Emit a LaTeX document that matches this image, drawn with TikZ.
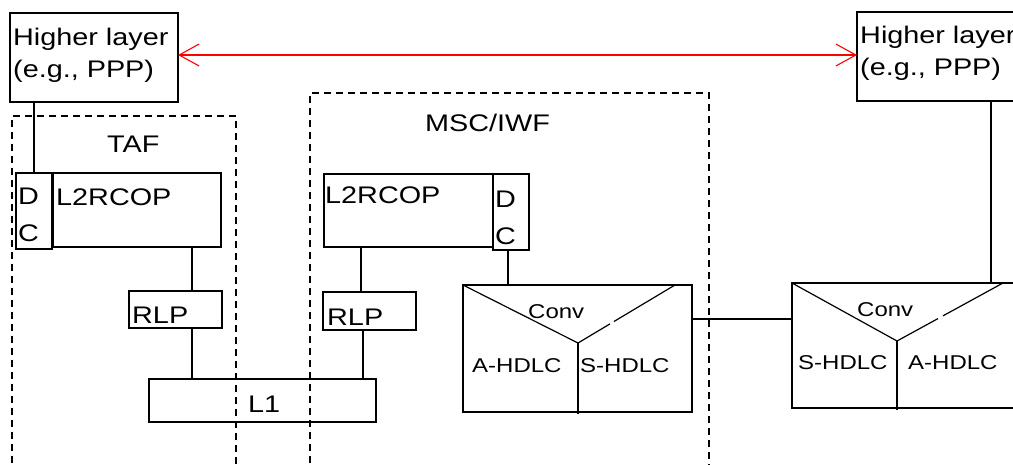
\documentclass[tikz,border=0pt]{standalone}
\usepackage{fontspec}
\setmainfont{Liberation Sans}[FakeStretch=1.2]
\usetikzlibrary{calc, arrows.meta}

\begin{document}
\begin{tikzpicture}[x=1pt, y=-1pt,
  box/.style={draw, line width=1.2pt, anchor=north west, inner sep=0pt, outer sep=0pt},
  txt/.style={anchor=base west, inner sep=0pt, align=left,
              font=\fontsize{24}{32}\selectfont},
  dctxt/.style={txt, font=\fontsize{24}{37}\selectfont},
  sml/.style={anchor=base west, inner sep=0pt, font=\fontsize{20}{24}\selectfont},
  ln/.style={line width=1.2pt},
  zone/.style={line width=1.6pt, dash pattern=on 7pt off 5pt},
  peer/.style={red, line width=1.1pt, {Straight Barb[length=20pt, width=22pt]}-{Straight Barb[length=20pt, width=22pt]}}
]
  \useasboundingbox (0,0) rectangle (1013,464);

  % dashed entities
  \draw[zone] (12,475) |- (236,116) -- (236,475);
  \draw[zone] (310,475) |- (709,93) -- (709,475);
  \node[txt] (taf) at (107,152) {TAF};
  \node[txt] (msc) at (425,131.5) {MSC/IWF};

  % higher layers
  \node[box, minimum width=168pt, minimum height=89pt] (hlL) at (10,13) {};
  \node[box, minimum width=200pt, minimum height=89pt] (hlR) at (857,12) {};
  \node[txt] (hlLt) at ([shift={(3,64)}]hlL.north west) {Higher layer\\(e.g., PPP)};
  \node[txt] (hlRt) at ([shift={(3,63)}]hlR.north west) {Higher layer\\(e.g., PPP)};

  % TAF side
  \node[box, minimum width=36pt, minimum height=76pt] (dcT) at (16,173) {};
  \node[box, minimum width=168pt, minimum height=74pt] (l2T) at (53,173) {};
  \node[box, minimum width=93pt, minimum height=37pt] (rlpT) at (129,291) {};
  \node[dctxt] (dcTt) at ([shift={(2,68)}]dcT.north west) {D\\C};
  \node[txt] (l2Tt) at ([shift={(3,32)}]l2T.north west) {L2RCOP};
  \node[txt] (rlpTt) at ([shift={(3,32)}]rlpT.north west) {RLP};

  % MSC/IWF side
  \node[box, minimum width=169pt, minimum height=73pt] (l2M) at (324,174) {};
  \node[box, minimum width=36pt, minimum height=76pt] (dcM) at (493,174) {};
  \node[box, minimum width=93pt, minimum height=38pt] (rlpM) at (323,292) {};
  \node[txt] (l2Mt) at ([shift={(1,29)}]l2M.north west) {L2RCOP};
  \node[dctxt] (dcMt) at ([shift={(2,70)}]dcM.north west) {D\\C};
  \node[txt] (rlpMt) at ([shift={(4,33)}]rlpM.north west) {RLP};

  \node[box, minimum width=227pt, minimum height=43pt] (L1) at (149,379) {};
  \node[txt] (L1t) at ([shift={(99,33)}]L1.north west) {L1};

  % converters
  \node[box, minimum width=229pt, minimum height=127pt] (convL) at (463,285) {};
  \node[box, minimum width=240pt, minimum height=125pt] (convR) at (792,283) {};
  \coordinate (vL) at (578,343);
  \coordinate (tL) at (675,285);
  \coordinate (vR) at (897,341);
  \coordinate (tR) at (1003,283);
  \draw[ln] (convL.north west) -- (vL) -- ($(vL)!0.33!(tL)$);
  \draw[ln] ($(vL)!0.37!(tL)$) -- (tL);
  \draw[ln] (vL) -- ([yshift=-2pt]vL |- convL.south);
  \draw[ln] (convR.north west) -- (vR) -- ($(vR)!0.387!(tR)$);
  \draw[ln] ($(vR)!0.434!(tR)$) -- (tR);
  \draw[ln] (vR) -- ([yshift=-2pt]vR |- convR.south);
  \node[sml] (cvL) at ([shift={(65,33)}]convL.north west) {Conv};
  \node[sml] (cvR) at ([shift={(65,33)}]convR.north west) {Conv};
  \node[sml] (ahL) at ([shift={(9,87)}]convL.north west) {A-HDLC};
  \node[sml] (shL) at ([shift={(117,87)}]convL.north west) {S-HDLC};
  \node[sml] (shR) at ([shift={(6,86)}]convR.north west) {S-HDLC};
  \node[sml] (ahR) at ([shift={(116,86)}]convR.north west) {A-HDLC};

  % connections
  \draw[ln] (dcT.north) -- (dcT.north |- hlL.south);
  \draw[ln] ([xshift=16.5pt]rlpT.north) -- ([xshift=16.5pt]rlpT.north |- l2T.south);
  \draw[ln] ([xshift=16.5pt]rlpT.south) -- ([xshift=16.5pt]rlpT.south |- L1.north);
  \draw[ln] ([xshift=-8.5pt]rlpM.north) -- ([xshift=-8.5pt]rlpM.north |- l2M.south);
  \draw[ln] ([xshift=-6.5pt]rlpM.south) -- ([xshift=-6.5pt]rlpM.south |- L1.north);
  \draw[ln] ([xshift=-3pt]dcM.south) -- ([xshift=-3pt]dcM.south |- convL.north);
  \draw[ln] ([xshift=34pt]hlR.south) -- ([xshift=34pt]hlR.south |- convR.north);
  \draw[ln] ([yshift=-34pt]convL.north east) -- ([yshift=-34pt]convL.north east -| convR.west);
  \draw[peer] ([yshift=2.5pt]hlL.east) -- ([yshift=2.5pt]hlL.east -| hlR.west);
\end{tikzpicture}
\end{document}
